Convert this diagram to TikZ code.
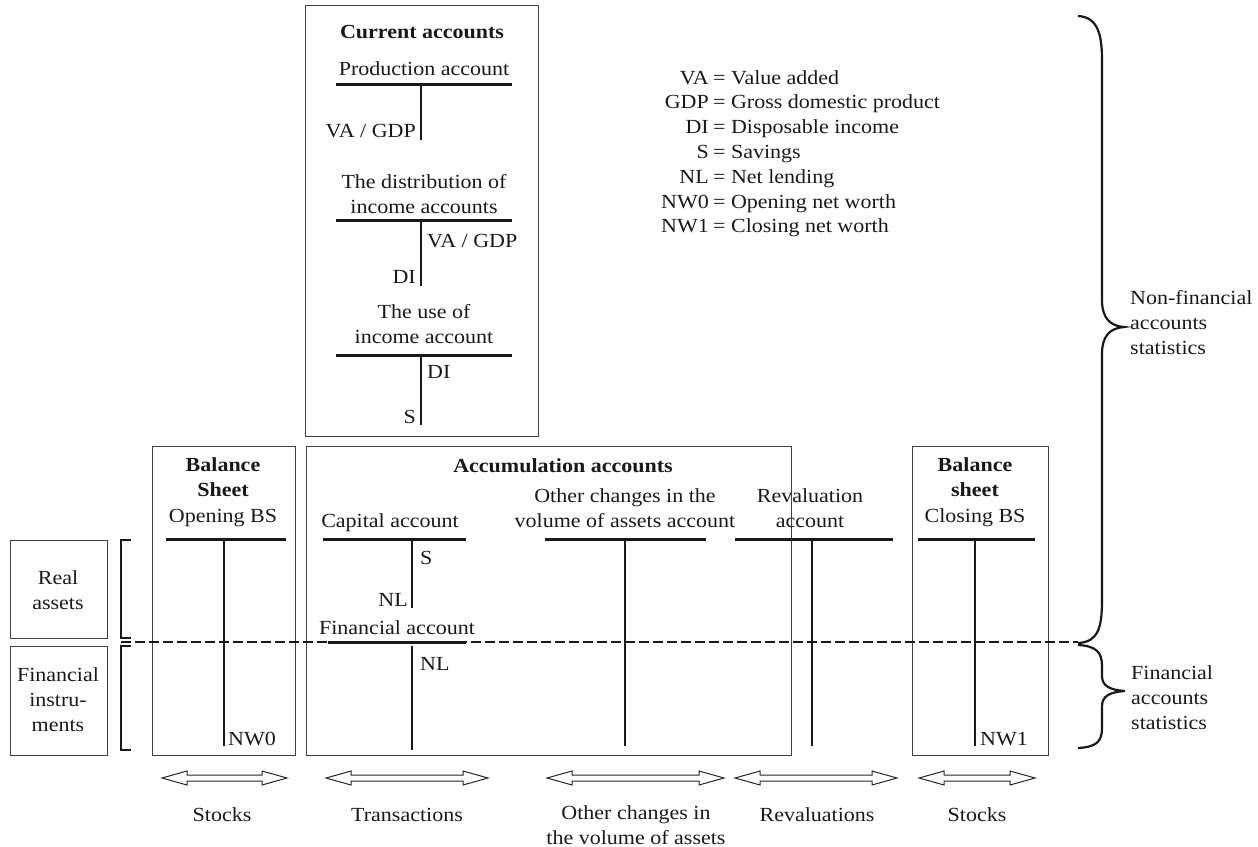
\documentclass[tikz,border=0pt]{standalone}
\usepackage{fontspec}
\setmainfont{Liberation Serif}[FakeStretch=1.1]
\begin{document}
\begin{tikzpicture}[x=1pt,y=-1pt,
  every node/.style={font=\fontsize{20}{25}\selectfont, inner sep=0pt, text=black!90},
  txt/.style={anchor=base},
  mtxt/.style={align=center, anchor=base},
  hd/.style={font=\fontsize{20}{25}\selectfont\bfseries, align=center, anchor=base},
  frame/.style={draw=black!75, line width=1pt},
  tbar/.style={line width=3pt, draw=black!90},
  tstem/.style={line width=2pt, draw=black!90},
  brk/.style={line width=2.6pt, draw=black!90},
  dsh/.style={line width=2.6pt, draw=black!90, dash pattern=on 10pt off 4pt},
  brc/.style={line width=2.2pt, draw=black!90},
  arr/.style={draw=black!85, line width=1pt, fill=white}]
\useasboundingbox (0,0) rectangle (1258,846);

% ---------- Current accounts box ----------
\draw[frame] (305,5) rectangle (538,436);
\node[hd] (cur) at (422,38) {Current accounts};
\node[txt] (prod) at (424,75) {Production account};
\coordinate (p1) at (336,84); \coordinate (p2) at (512,84);
\draw[tbar] (p1) -- (p2);
\coordinate (ps1) at (421,84); \coordinate (ps2) at (421,140);
\draw[tstem] (ps1) -- (ps2);
\node[anchor=base east] (pva) at (416,137) {VA / GDP};

\node[mtxt] (dist) at (424,213) {The distribution of\\income accounts};
\coordinate (d1) at (336,220); \coordinate (d2) at (512,220);
\draw[tbar] (d1) -- (d2);
\coordinate (ds1) at (421,220); \coordinate (ds2) at (421,286);
\draw[tstem] (ds1) -- (ds2);
\node[anchor=base west] (dva) at (427,247) {VA / GDP};
\node[anchor=base east] (ddi) at (416,283) {DI};

\node[mtxt] (use) at (424,343) {The use of\\income account};
\coordinate (u1) at (336,355); \coordinate (u2) at (512,355);
\draw[tbar] (u1) -- (u2);
\coordinate (us1) at (421,355); \coordinate (us2) at (421,425);
\draw[tstem] (us1) -- (us2);
\node[anchor=base west] (udi) at (427,378) {DI};
\node[anchor=base east] (us) at (416,423) {S};

% ---------- Legend ----------
\foreach \k/\v [count=\i from 0] in {VA/Value added, GDP/Gross domestic product, DI/Disposable income, S/Savings, NL/Net lending, NW0/Opening net worth, NW1/Closing net worth}{
  \node[anchor=base east] (lk\i) at (709,84+\i*24.8) {\k};
  \node[anchor=base west] (lv\i) at (713,84+\i*24.8) {= \v};
}

% ---------- Left category boxes ----------
\draw[frame] (10,540) rectangle (107,638);
\node[mtxt, anchor=center] (real) at (58,590) {Real\\assets};
\draw[frame] (10,646) rectangle (107,755);
\node[mtxt, anchor=center] (fin) at (58,700) {Financial\\instru-\\ments};
\draw[brk] (131,540) -- (121,540) -- (121,638) -- (131,638);
\draw[brk] (131,646) -- (121,646) -- (121,750) -- (131,750);

% ---------- Opening balance sheet ----------
\draw[frame] (152,446) rectangle (295,755);
\node[hd] (bs1) at (223,496) {Balance\\Sheet};
\node[txt] (obs) at (223,522) {Opening BS};
\coordinate (o1) at (166,539); \coordinate (o2) at (286,539);
\draw[tbar] (o1) -- (o2);
\coordinate (os1) at (224,539); \coordinate (os2) at (224,746);
\draw[tstem] (os1) -- (os2);
\node[anchor=base west] (nw0) at (228,745) {NW0};

% ---------- Accumulation accounts ----------
\draw[frame] (306,446) rectangle (791,755);
\node[hd] (acc) at (563,472) {Accumulation accounts};
\node[txt] (cap) at (390,527) {Capital account};
\coordinate (c1) at (323,539); \coordinate (c2) at (466,539);
\draw[tbar] (c1) -- (c2);
\coordinate (cs1) at (412,539); \coordinate (cs2) at (412,608);
\draw[tstem] (cs1) -- (cs2);
\node[anchor=base west] (cS) at (420,564) {S};
\node[anchor=base east] (cNL) at (408,606) {NL};
\node[txt] (fa) at (397,634) {Financial account};
\coordinate (f1) at (328,642); \coordinate (f2) at (466,642);
\draw[tbar] (f1) -- (f2);
\coordinate (fs1) at (412,646); \coordinate (fs2) at (412,750);
\draw[tstem] (fs1) -- (fs2);
\node[anchor=base west] (fNL) at (420,670) {NL};

\node[mtxt] (oth) at (625,527) {Other changes in the\\volume of assets account};
\coordinate (v1) at (545,539); \coordinate (v2) at (706,539);
\draw[tbar] (v1) -- (v2);
\coordinate (vs1) at (625,539); \coordinate (vs2) at (625,746);
\draw[tstem] (vs1) -- (vs2);

\node[mtxt] (rev) at (810,527) {Revaluation\\account};
\coordinate (r1) at (735,539); \coordinate (r2) at (893,539);
\draw[tbar] (r1) -- (r2);
\coordinate (rs1) at (812,539); \coordinate (rs2) at (812,746);
\draw[tstem] (rs1) -- (rs2);

% ---------- Closing balance sheet ----------
\draw[frame] (912,446) rectangle (1048,755);
\node[hd] (bs2) at (975,496) {Balance\\sheet};
\node[txt] (cbs) at (975,522) {Closing BS};
\coordinate (k1) at (918,539); \coordinate (k2) at (1035,539);
\draw[tbar] (k1) -- (k2);
\coordinate (ks1) at (975,539); \coordinate (ks2) at (975,746);
\draw[tstem] (ks1) -- (ks2);
\node[anchor=base west] (nw1) at (980,745) {NW1};

% ---------- Dashed divider ----------
\coordinate (dl) at (121,642); \coordinate (dr) at (1078,642);
\draw[dsh] (dl) -- (dr);

% ---------- Braces ----------
\draw[brc] (1078,16) .. controls (1098,17) and (1102,35) .. (1102,60)
  -- (1102,300) .. controls (1102,318) and (1110,326) .. (1124,327)
  .. controls (1110,328) and (1102,336) .. (1102,354)
  -- (1102,600) .. controls (1102,628) and (1098,642) .. (1078,643);
\node[anchor=base west, align=left] (nfa) at (1130,354) {Non-financial\\accounts\\statistics};
\draw[brc] (1078,645) .. controls (1096,646) and (1102,652) .. (1102,666)
  -- (1102,676) .. controls (1102,686) and (1110,690) .. (1125,691)
  .. controls (1110,692) and (1102,696) .. (1102,706)
  -- (1102,728) .. controls (1102,742) and (1096,747) .. (1078,748);
\node[anchor=base west, align=left] (fas) at (1131,729) {Financial\\accounts\\statistics};

% ---------- Double arrows ----------
\foreach \n/\a/\b in {a1/162/287, a2/326/488, a3/547/724, a4/735/897, a5/919/1035}{
  \draw[arr] (\a,778) -- (\a+25,771) -- (\a+25,775) -- (\b-25,775) -- (\b-25,771)
    -- (\b,778) -- (\b-25,785) -- (\b-25,781) -- (\a+25,781) -- (\a+25,785) -- cycle;
}
\node[txt] (st1) at (222,821) {Stocks};
\node[txt] (tr) at (407,821) {Transactions};
\node[mtxt] (oc) at (636,844) {Other changes in\\the volume of assets};
\node[txt] (rv) at (817,821) {Revaluations};
\node[txt] (st2) at (977,821) {Stocks};
\end{tikzpicture}
\end{document}
